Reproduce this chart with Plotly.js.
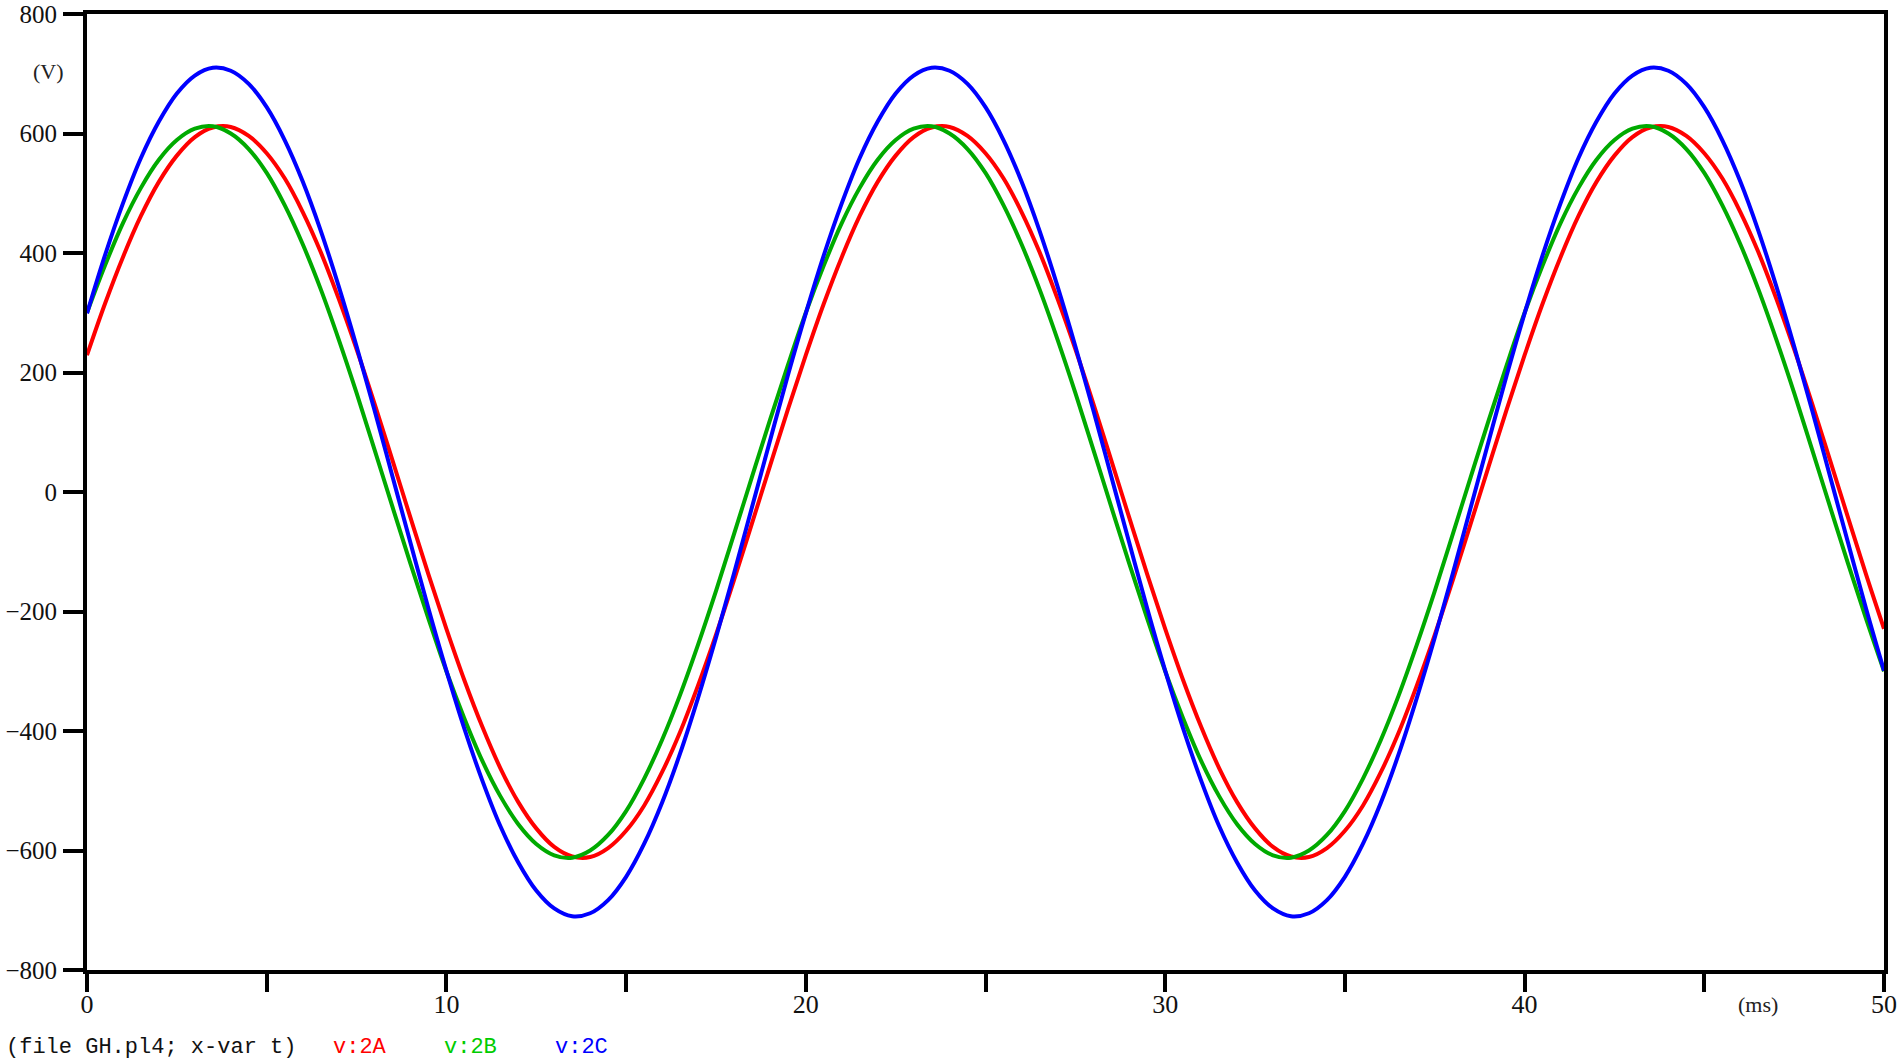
<!DOCTYPE html>
<html>
<head>
<meta charset="utf-8">
<script src="https://cdn.plot.ly/plotly-3.0.1.min.js"></script>
<style>
html,body{margin:0;padding:0;background:#fff;}
#chart{width:1900px;height:1064px;}
</style>
</head>
<body>
<div id="chart"></div>
<script>
// time in ms
var timeMs = [0,0.5,1,1.5,2,2.5,3,3.5,4,4.5,5,5.5,6,6.5,7,7.5,8,8.5,9,9.5,
              10,10.5,11,11.5,12,12.5,13,13.5,14,14.5,15,15.5,16,16.5,17,17.5,18,18.5,19,19.5,
              20,20.5,21,21.5,22,22.5,23,23.5,24,24.5,25,25.5,26,26.5,27,27.5,28,28.5,29,29.5,
              30,30.5,31,31.5,32,32.5,33,33.5,34,34.5,35,35.5,36,36.5,37,37.5,38,38.5,39,39.5,
              40,40.5,41,41.5,42,42.5,43,43.5,44,44.5,45,45.5,46,46.5,47,47.5,48,48.5,49,49.5,
              50];

// v:2A (V)
var v2A = [229,315,393,462,519,563,594,610,611,596,567,525,469,402,324,239,148,53,-43,-138,
           -229,-315,-393,-462,-519,-563,-594,-610,-611,-596,-567,-525,-469,-402,-324,-239,-148,-53,43,138,
           229,315,393,462,519,563,594,610,611,596,567,525,469,402,324,239,148,53,-43,-138,
           -229,-315,-393,-462,-519,-563,-594,-610,-611,-596,-567,-525,-469,-402,-324,-239,-148,-53,43,138,
           229,315,393,462,519,563,594,610,611,596,567,525,469,402,324,239,148,53,-43,-138,
           -229];

// v:2B (V)
var v2B = [300,379,450,509,556,589,608,612,600,574,534,480,415,340,256,166,71,-25,-120,-212,
           -300,-379,-450,-509,-556,-589,-608,-612,-600,-574,-534,-480,-415,-340,-256,-166,-71,25,120,212,
           300,379,450,509,556,589,608,612,600,574,534,480,415,340,256,166,71,-25,-120,-212,
           -300,-379,-450,-509,-556,-589,-608,-612,-600,-574,-534,-480,-415,-340,-256,-166,-71,25,120,212,
           300,379,450,509,556,589,608,612,600,574,534,480,415,340,256,166,71,-25,-120,-212,
           -300];

// v:2C (V)
var v2C = [299,396,483,559,620,667,697,710,705,683,644,589,520,438,345,244,137,26,-85,-195,
           -299,-396,-483,-559,-620,-667,-697,-710,-705,-683,-644,-589,-520,-438,-345,-244,-137,-26,85,195,
           299,396,483,559,620,667,697,710,705,683,644,589,520,438,345,244,137,26,-85,-195,
           -299,-396,-483,-559,-620,-667,-697,-710,-705,-683,-644,-589,-520,-438,-345,-244,-137,-26,85,195,
           299,396,483,559,620,667,697,710,705,683,644,589,520,438,345,244,137,26,-85,-195,
           -299];

var xTickVals = [0,5,10,15,20,25,30,35,40,45,50];
var xTickText = ['0','','10','','20','','30','','40','','50'];
var yTickVals = [-800,-600,-400,-200,0,200,400,600,800];

var seriesNames = ['v:2A','v:2B','v:2C'];
var seriesColors = ['#ff0000','#00aa00','#0000ff'];
var labelColors = ['#ff0000','#00cc00','#0000ff'];
var seriesData = [v2A, v2B, v2C];

var traces = seriesData.map(function(d,i){
  return {
    x: timeMs, y: d, type:'scatter', mode:'lines', name: seriesNames[i],
    line:{color: seriesColors[i], width:4, shape:'spline', smoothing:1},
    hoverinfo:'skip'
  };
});

var serif = '"Liberation Serif", "Times New Roman", serif';
var mono = '"Liberation Mono", "Courier New", monospace';

var layout = {
  width:1900, height:1064,
  margin:{l:87, r:16, t:14, b:94, pad:0},
  paper_bgcolor:'#ffffff', plot_bgcolor:'#ffffff',
  showlegend:false,
  xaxis:{
    range:[0,50], tickmode:'array', tickvals:xTickVals, ticktext:xTickText,
    ticks:'outside', ticklen:18, tickwidth:4, tickcolor:'#000',
    showline:true, linewidth:4, linecolor:'#000', mirror:true,
    showgrid:false, zeroline:false,
    tickfont:{family:serif, size:26, color:'#111'},
    ticklabelstandoff:-10, ticklabeloverflow:'allow'
  },
  yaxis:{
    range:[-800,800], tickmode:'array', tickvals:yTickVals,
    ticks:'outside', ticklen:20, tickwidth:4, tickcolor:'#000',
    showline:true, linewidth:4, linecolor:'#000', mirror:true,
    showgrid:false, zeroline:false,
    tickfont:{family:serif, size:25, color:'#111'},
    ticklabelstandoff:1, ticklabeloverflow:'allow'
  },
  annotations:[
    {text:'(V)', xref:'paper', yref:'y', x:-0.0217, y:703, xanchor:'center', yanchor:'middle',
     showarrow:false, font:{family:serif, size:22, color:'#222'}},
    {text:'(ms)', xref:'x', yref:'paper', x:46.49, y:-0.0365, xanchor:'center', yanchor:'middle',
     showarrow:false, font:{family:serif, size:22, color:'#222'}},
    {text:'(file GH.pl4; x-var t)', xref:'paper', yref:'paper', x:-0.0462, y:-0.0814,
     xanchor:'left', yanchor:'middle', showarrow:false, font:{family:mono, size:22, color:'#111'}},
    {text:seriesNames[0], xref:'paper', yref:'paper', x:0.1358, y:-0.0814,
     xanchor:'left', yanchor:'middle', showarrow:false, font:{family:mono, size:22, color:labelColors[0]}},
    {text:seriesNames[1], xref:'paper', yref:'paper', x:0.1976, y:-0.0814,
     xanchor:'left', yanchor:'middle', showarrow:false, font:{family:mono, size:22, color:labelColors[1]}},
    {text:seriesNames[2], xref:'paper', yref:'paper', x:0.2593, y:-0.0814,
     xanchor:'left', yanchor:'middle', showarrow:false, font:{family:mono, size:22, color:labelColors[2]}}
  ]
};

Plotly.newPlot('chart', traces, layout, {displayModeBar:false, staticPlot:true});
</script>
</body>
</html>
